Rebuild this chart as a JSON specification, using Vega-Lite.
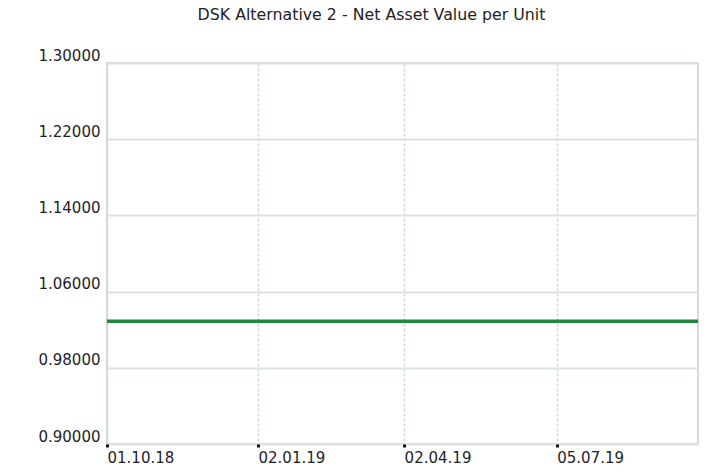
{
  "$schema": "https://vega.github.io/schema/vega-lite/v6.json",
  "width": 591,
  "height": 381,
  "autosize": {"type": "none"},
  "padding": {"left": 107, "top": 63, "right": 27, "bottom": 30},
  "background": "white",
  "title": {
    "text": "DSK Alternative 2 - Net Asset Value per Unit",
    "font": "DejaVu Sans",
    "fontSize": 15.8,
    "fontWeight": "normal",
    "color": "#222222",
    "anchor": "middle",
    "frame": "group",
    "dx": -31,
    "offset": 24
  },
  "config": {
    "view": {"stroke": "#d5dcd5", "strokeWidth": 2},
    "axis": {
      "labelFont": "DejaVu Sans",
      "labelFontSize": 15,
      "labelColor": "#1e1e2a",
      "domain": false,
      "title": null
    }
  },
  "data": {
    "values": [
      {"date": "2018-10-01", "nav": 1.029},
      {"date": "2018-11-01", "nav": 1.029},
      {"date": "2018-12-01", "nav": 1.029},
      {"date": "2019-01-02", "nav": 1.029},
      {"date": "2019-02-01", "nav": 1.029},
      {"date": "2019-03-01", "nav": 1.029},
      {"date": "2019-04-02", "nav": 1.029},
      {"date": "2019-05-02", "nav": 1.029},
      {"date": "2019-06-03", "nav": 1.029},
      {"date": "2019-07-05", "nav": 1.029},
      {"date": "2019-08-01", "nav": 1.029},
      {"date": "2019-09-02", "nav": 1.029},
      {"date": "2019-09-30", "nav": 1.029}
    ]
  },
  "mark": {"type": "line", "color": "#1f8a3c", "strokeWidth": 3.5},
  "encoding": {
    "x": {
      "field": "date",
      "type": "temporal",
      "scale": {
        "type": "utc",
        "domain": [
          {"year": 2018, "month": 10, "date": 1, "utc": true},
          {"year": 2019, "month": 9, "date": 30, "utc": true}
        ]
      },
      "axis": {
        "values": [
          {"year": 2018, "month": 10, "date": 1, "utc": true},
          {"year": 2019, "month": 1, "date": 2, "utc": true},
          {"year": 2019, "month": 4, "date": 2, "utc": true},
          {"year": 2019, "month": 7, "date": 5, "utc": true}
        ],
        "labelExpr": "utcFormat(datum.value, '%d.%m.%y')",
        "labelAlign": "left",
        "labelBaseline": "top",
        "labelPadding": 3,
        "ticks": true,
        "tickSize": 3,
        "tickWidth": 3,
        "tickColor": "#111111",
        "grid": true,
        "gridColor": "#c9dcd8",
        "gridDash": [3, 2],
        "gridWidth": 1.5
      }
    },
    "y": {
      "field": "nav",
      "type": "quantitative",
      "scale": {"domain": [0.9, 1.3], "zero": false, "nice": false},
      "axis": {
        "values": [0.9, 0.98, 1.06, 1.14, 1.22, 1.3],
        "format": ".5f",
        "labelBaseline": "bottom",
        "labelPadding": 7,
        "ticks": false,
        "grid": true,
        "gridColor": "#dce2dc",
        "gridWidth": 2
      }
    }
  }
}
